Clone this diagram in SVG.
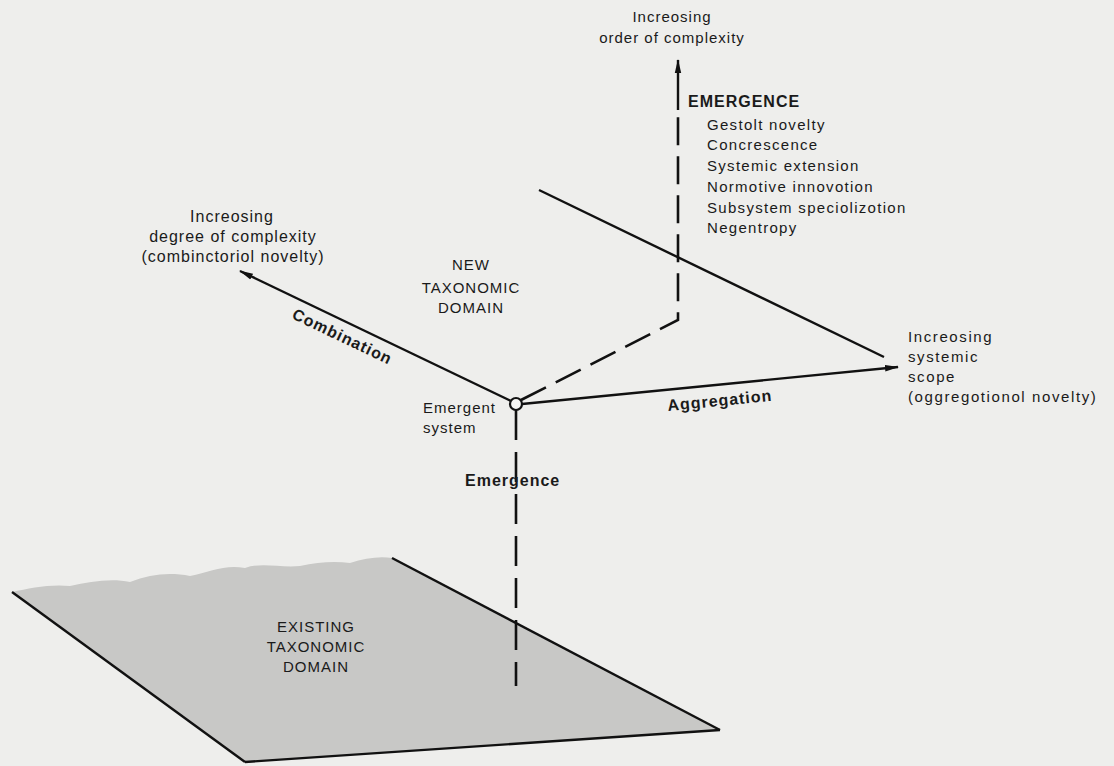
<svg xmlns="http://www.w3.org/2000/svg" width="1114" height="766" viewBox="0 0 1114 766">
<defs>
<marker id="ah" viewBox="0 0 14 8" refX="13" refY="4" markerWidth="14" markerHeight="8" markerUnits="userSpaceOnUse" orient="auto">
<path d="M0,0.8 L14,4 L0,7.2 Z" fill="#111"/>
</marker>
<style>
text{font-family:"Liberation Sans",Arial,sans-serif;fill:#1a1a1a;font-size:15px;letter-spacing:1px}
.b{font-weight:bold}
.c{text-anchor:middle}
.ln{stroke:#111;stroke-width:2.4;fill:none}
.dash{stroke:#111;stroke-width:2.6;fill:none;stroke-dasharray:28 11}
.lst{font-size:15px;letter-spacing:1.3px}
</style>
</defs>
<rect width="1114" height="766" fill="#eeeeec"/>

<g id="existing-domain">
<path d="M12,592 C30,588 50,584 70,586 C90,582 110,578 130,582 C150,574 170,572 190,576 C210,572 225,564 245,568 C262,562 280,568 300,566 C318,562 335,561 350,563 C365,558 380,556 392,558 L720,730 L245,762 Z" fill="#c8c8c6"/>
<line class="ln" x1="12" y1="592" x2="245" y2="762"/>
<line class="ln" x1="245" y1="762" x2="720" y2="730"/>
<line class="ln" x1="720" y1="730" x2="392" y2="558"/>
<text class="c" x="316" y="632" style="font-size:15px">EXISTING</text>
<text class="c" x="316" y="652" style="font-size:15px">TAXONOMIC</text>
<text class="c" x="316" y="672" style="font-size:15px">DOMAIN</text>
</g>

<g id="new-domain">
<line class="ln" x1="539" y1="190" x2="884" y2="357"/>
<text class="c" x="471" y="270" style="font-size:15px">NEW</text>
<text class="c" x="471" y="293" style="font-size:15px">TAXONOMIC</text>
<text class="c" x="471" y="313" style="font-size:15px">DOMAIN</text>
</g>

<g id="connectors">
<line class="ln" x1="511" y1="401" x2="240" y2="271" marker-end="url(#ah)"/>
<line class="ln" x1="522" y1="404" x2="898" y2="367" marker-end="url(#ah)"/>
<path class="dash" d="M521,400 L678,320 L678,108"/>
<line class="ln" x1="678" y1="110" x2="678" y2="60" marker-end="url(#ah)"/>
<line class="dash" x1="516" y1="410" x2="516" y2="686" style="stroke-dasharray:30 12"/>
</g>

<g id="emergent-system">
<circle cx="516" cy="404" r="6" fill="#f4f4f2" stroke="#111" stroke-width="2.2"/>
<text x="423" y="413" style="font-size:15px">Emergent</text>
<text x="423" y="433" style="font-size:15px">system</text>
</g>

<g id="labels">
<text class="b" x="465" y="486" style="font-size:16px">Emergence</text>
<text class="b" transform="translate(291,318) rotate(25.6)" style="font-size:16px">Combination</text>
<text class="b" transform="translate(668,411) rotate(-5.6)" style="font-size:16px">Aggregation</text>
</g>

<g id="order-axis">
<text class="c" x="672" y="22" style="font-size:15px">Increosing</text>
<text class="c" x="672" y="43" style="font-size:15px">order of complexity</text>
<text class="b" x="688" y="107" style="font-size:16px">EMERGENCE</text>
<text class="lst" x="707" y="130">Gestolt novelty</text>
<text class="lst" x="707" y="150">Concrescence</text>
<text class="lst" x="707" y="171">Systemic extension</text>
<text class="lst" x="707" y="192">Normotive innovotion</text>
<text class="lst" x="707" y="213">Subsystem speciolizotion</text>
<text class="lst" x="707" y="233">Negentropy</text>
</g>

<g id="degree-axis">
<text class="c" x="232" y="222" style="font-size:16px">Increosing</text>
<text class="c" x="233" y="242" style="font-size:16px">degree of complexity</text>
<text class="c" x="233" y="262" style="font-size:16px">(combinctoriol novelty)</text>
</g>

<g id="scope-axis">
<text x="908" y="342" style="font-size:15px;letter-spacing:1.6px">Increosing</text>
<text x="908" y="362" style="font-size:15px;letter-spacing:1.6px">systemic</text>
<text x="908" y="382" style="font-size:15px;letter-spacing:1.6px">scope</text>
<text x="908" y="402" style="font-size:15px;letter-spacing:1.6px">(oggregotionol novelty)</text>
</g>
</svg>
